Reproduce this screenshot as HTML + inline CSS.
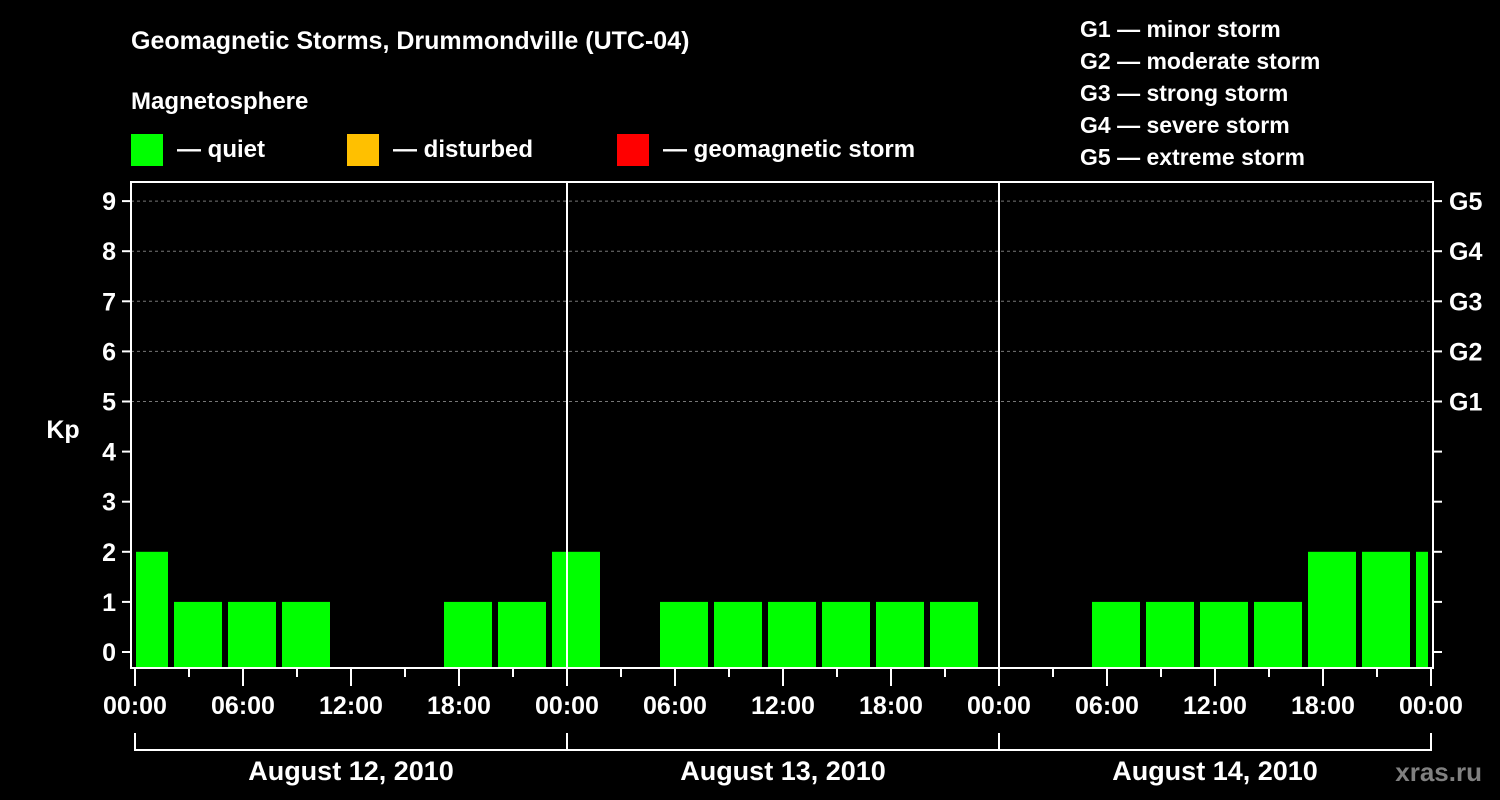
<!DOCTYPE html>
<html><head><meta charset="utf-8"><style>
body{margin:0;background:#000;}
svg{display:block;font-family:"Liberation Sans",sans-serif;font-weight:bold;}
</style></head><body>
<svg id="chart" width="1500" height="800" viewBox="0 0 1500 800">
<rect width="1500" height="800" fill="#000"/>
<text x="131" y="49" fill="#fff" font-size="25">Geomagnetic Storms, Drummondville (UTC-04)</text>
<text x="131" y="109" fill="#fff" font-size="24">Magnetosphere</text>
<g><rect x="131" y="134" width="32" height="32" fill="#00ff00"/><text x="177" y="157" fill="#fff" font-size="24">— quiet</text></g>
<g><rect x="347" y="134" width="32" height="32" fill="#ffc000"/><text x="393" y="157" fill="#fff" font-size="24">— disturbed</text></g>
<g><rect x="617" y="134" width="32" height="32" fill="#ff0000"/><text x="663" y="157" fill="#fff" font-size="24">— geomagnetic storm</text></g>
<g fill="#fff" font-size="23">
<text x="1080" y="37">G1 — minor storm</text><text x="1080" y="69">G2 — moderate storm</text><text x="1080" y="101">G3 — strong storm</text><text x="1080" y="133">G4 — severe storm</text><text x="1080" y="165">G5 — extreme storm</text>
</g>
<g id="grid"></g><g id="bars"></g><g id="axes"></g>
<text x="63" y="438" fill="#fff" font-size="25" text-anchor="middle">Kp</text>
<text x="1482" y="781" fill="#808080" font-size="26" text-anchor="end">xras.ru</text>
</svg>
<script>
const kpValues=[2,1,1,1,0,0,1,1,2,0,1,1,1,1,1,1,0,0,1,1,1,1,2,2,2];
const startHour=-1;
const dayLabels=["August 12, 2010","August 13, 2010","August 14, 2010"];
const hourLabels=["00:00","06:00","12:00","18:00"];
const gLabels=["G1","G2","G3","G4","G5"];
const NS="http://www.w3.org/2000/svg";
const L=131,R=1433,T=182,B=668,X0=135,PH=18;
const x=h=>X0+h*PH, y=v=>652-50.1*v;
function mk(p,t,a){const e=document.createElementNS(NS,t);for(const k in a)e.setAttribute(k,a[k]);p.appendChild(e);return e;}
const grid=document.getElementById('grid'),bars=document.getElementById('bars'),axes=document.getElementById('axes');
for(let v=5;v<=9;v++){const l=mk(grid,'line',{x1:L,x2:R,y1:y(v),y2:y(v),stroke:'#777','stroke-dasharray':'3,3'});
}
kpValues.forEach((v,i)=>{if(v<=0)return;const s=startHour+i*3,e=s+3;
let x1=Math.max(x(s)+3,L+5),x2=Math.min(x(e)-3,R-5);
const r=mk(bars,'rect',{x:x1,y:y(v),width:x2-x1,height:B-y(v),fill:'#00ff00'});
});
mk(axes,'rect',{x:L,y:T,width:R-L,height:B-T,fill:'none',stroke:'#fff','stroke-width':2});
for(let d=1;d<3;d++)mk(axes,'line',{x1:x(24*d),x2:x(24*d),y1:T,y2:B,stroke:'#fff','stroke-width':2});
for(let v=0;v<=9;v++){
mk(axes,'line',{x1:122,x2:L,y1:y(v),y2:y(v),stroke:'#fff','stroke-width':2});
mk(axes,'line',{x1:R,x2:R+9,y1:y(v),y2:y(v),stroke:'#fff','stroke-width':2});
const t=mk(axes,'text',{x:116,y:y(v)+9,fill:'#fff','font-size':25,'text-anchor':'end'});t.textContent=v;
}
gLabels.forEach((g,i)=>{const t=mk(axes,'text',{x:1449,y:y(5+i)+9,fill:'#fff','font-size':25});t.textContent=g;
});
for(let h=0;h<=72;h+=3){const long=h%6===0;
mk(axes,'line',{x1:x(h),x2:x(h),y1:B,y2:long?686:677,stroke:'#fff','stroke-width':2});
if(long){const t=mk(axes,'text',{x:x(h),y:714,fill:'#fff','font-size':25,'text-anchor':'middle'});t.textContent=hourLabels[(h/6)%4];
}}
mk(axes,'path',{d:`M${x(0)} 733V750H${x(72)}V733`,fill:'none',stroke:'#fff','stroke-width':2});
dayLabels.forEach((d,i)=>{mk(axes,'line',{x1:x(24*i),x2:x(24*i),y1:733,y2:750,stroke:'#fff','stroke-width':2});
const t=mk(axes,'text',{x:x(24*i+12),y:780,fill:'#fff','font-size':27,'text-anchor':'middle'});t.textContent=d;
});
</script>
</body></html>
